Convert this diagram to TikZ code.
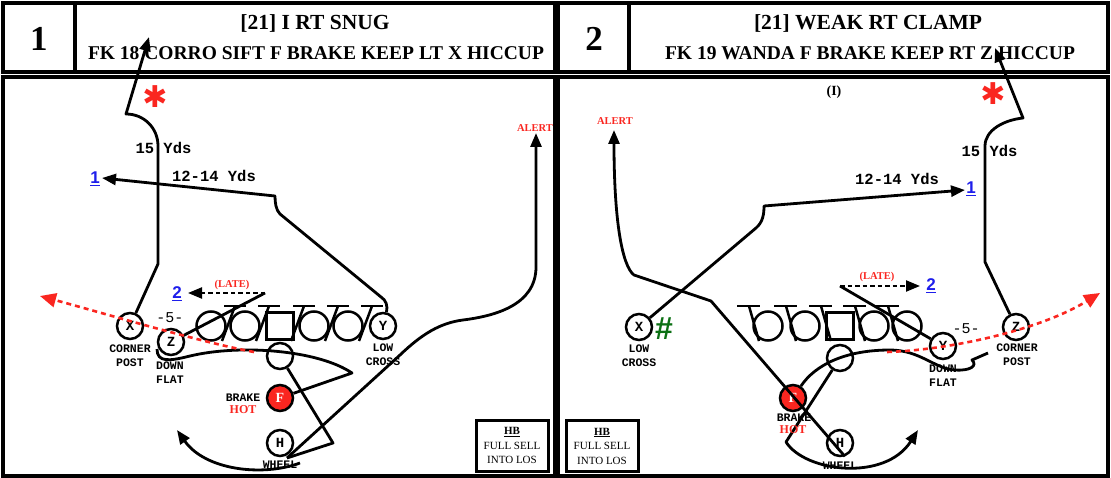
\documentclass[tikz,border=0pt]{standalone}
\usepackage{fontspec}
\setmainfont{Liberation Serif}
\newfontfamily\monof{Liberation Mono}
\newfontfamily\sansf{Liberation Sans}
\newfontfamily\djv{DejaVu Sans}
\usetikzlibrary{arrows.meta}
\definecolor{pred}{RGB}{250,38,32}
\definecolor{pblue}{RGB}{30,30,235}
\definecolor{pgreen}{RGB}{12,112,20}
\tikzset{
 frame/.style={draw=black,line width=3.2pt},
 route/.style={draw=black,line width=2.8pt,line join=round},
 tip/.style={-{Triangle[length=14pt,width=11pt]}},
 dashroute/.style={draw=black,line width=2.2pt,dash pattern=on 4.5pt off 3pt,-{Triangle[length=14pt,width=11pt]}},
 qbpath/.style={draw=pred,line width=2.6pt,dash pattern=on 5pt off 4pt,-{Triangle[length=16pt,width=14pt,fill=pred]}},
 player/.style={circle,draw,line width=2.5pt,minimum size=26pt,inner sep=0pt,font=\monof\bfseries\fontsize{14}{14}\selectfont},
 lman/.style={circle,draw,line width=2.5pt,minimum size=29pt,inner sep=0pt},
 cbox/.style={rectangle,draw,line width=2.5pt,minimum size=27pt,inner sep=0pt},
 plabel/.style={font=\monof\bfseries\fontsize{11.5}{14}\selectfont,align=center,inner sep=0pt},
 yds/.style={font=\monof\bfseries\fontsize{15.5}{15.5}\selectfont,inner sep=0pt},
 five/.style={font=\monof\fontsize{15}{15}\selectfont,inner sep=0pt},
 redsmall/.style={text=pred,font=\bfseries\fontsize{10.5}{10.5}\selectfont,inner sep=0pt},
 hot/.style={text=pred,font=\bfseries\fontsize{12}{12}\selectfont,inner sep=0pt},
 bnum/.style={text=pblue,font=\sansf\bfseries\fontsize{17}{17}\selectfont,inner sep=0pt},
 starsym/.style={text=pred,font=\djv\bfseries\fontsize{30}{30}\selectfont,inner sep=0pt},
 hashsym/.style={text=pgreen,font=\sansf\bfseries\fontsize{32}{32}\selectfont,inner sep=0pt},
 hbbox/.style={draw,line width=3pt,minimum width=72pt,minimum height=51pt,align=center,inner sep=0pt,font=\fontsize{11}{14.5}\selectfont},
 numtxt/.style={font=\bfseries\fontsize{35}{35}\selectfont,inner sep=0pt},
 ttl/.style={font=\bfseries\fontsize{21.5}{21.5}\selectfont,inner sep=0pt},
 subttl/.style={font=\bfseries\fontsize{19.5}{19.5}\selectfont,inner sep=0pt},
 fplayer/.style={player,fill=pred,text=white,font=\bfseries\fontsize{14}{14}\selectfont},
}
\begin{document}
\begin{tikzpicture}[x=1pt,y=-1pt]
\useasboundingbox (0,0) rectangle (1111,478);
% ---------- frames ----------
\draw[frame] (3,3) rectangle (555,72);
\draw[frame] (75,3) -- (75,72);
\draw[frame] (3,77) rectangle (555,476);
\draw[frame] (558,3) rectangle (1108,72);
\draw[frame] (629,3) -- (629,72);
\draw[frame] (558,77) rectangle (1108,476);
% ---------- headers ----------
\node[numtxt] (n1) at (39,39) {1};
\node[ttl] (t1) at (315,23) {[21] I RT SNUG};
\node[subttl] (s1) at (316,53) {FK 18 CORRO SIFT F BRAKE KEEP LT X HICCUP};
\node[numtxt] (n2) at (594,39) {2};
\node[ttl] (t2) at (868,23) {[21] WEAK RT CLAMP};
\node[subttl] (s2) at (870,53) {FK 19 WANDA F BRAKE KEEP RT Z HICCUP};

% =============== LEFT PANEL ===============
\node[player] (lX) at (130,326) {X};
\node[player] (lZ) at (171,342) {Z};
\node[player] (lY) at (383,326) {Y};
\node[player] (lQ) at (280,356) {};
\node[fplayer] (lF) at (280,398) {F};
\node[player] (lH) at (280,443) {H};
\node[lman] (lL1) at (211,326) {};
\node[lman] (lL2) at (245,326) {};
\node[cbox] (lC) at (280,326) {};
\node[lman] (lL4) at (314,326) {};
\node[lman] (lL5) at (348,326) {};
\foreach \cx in {211,245,280,314,348}{
  \draw[route,line width=2.5pt] (\cx+13,306) -- (\cx+35,306);
  \draw[route,line width=2.5pt] (\cx+24,306) -- (\cx+11,341);
}
\coordinate (lLate) at (265,293);
\coordinate (lR0) at (254,352);
\coordinate (lMeet) at (287,458);
% X route
\draw[route,tip] (lX) -- (158,264) -- (158,146) .. controls (158,128) and (144,114) .. (126,114) -- (149,37);
% Y route
\draw[route,tip] (lY) .. controls (388,306) and (386,300) .. (381,297) -- (280,214) .. controls (276,210) and (275,203) .. (275,196) -- (102,178);
% Z route
\draw[route] (lZ) -- (lLate);
\draw[dashroute] (lLate) -- (188,293);
% F brake
\draw[route] (lF) -- (352,373) .. controls (318,350) and (240,344) .. (190,356) .. controls (170,361) and (157,363) .. (157,349);
% QB fake to H
\draw[route] (lQ) -- (333,443) -- (lMeet);
% wheel
\draw[route,tip] (300,463) .. controls (262,477) and (205,470) .. (177,430);
% alert
\draw[route,tip] (lMeet) -- (400,355) .. controls (422,334) and (440,323) .. (463,320) .. controls (495,316) and (536,305) .. (536,267) -- (536,133);
% QB keep
\draw[qbpath] (lR0) .. controls (200,342) and (110,315) .. (40,296);
% labels
\node[plabel] (lXl) at (130,355.5) {CORNER\\POST};
\node[plabel] (lZl) at (170,372.5) {DOWN\\FLAT};
\node[plabel] (lYl) at (383,355) {LOW\\CROSS};
\node[plabel] (lFb) at (243,398) {BRAKE};
\node[hot] (lFh) at (243,410) {HOT};
\node[plabel] (lHl) at (280,465) {WHEEL};
\node[five] (l5) at (170,318) {-5-};
\node[yds] (l15) at (163.5,148) {15 Yds};
\node[yds] (l1214) at (214,176) {12-14 Yds};
\node[bnum] (l1) at (95,179) {\underline{1}};
\node[bnum] (l2) at (177,294) {\underline{2}};
\node[redsmall] (llate) at (232,285) {(LATE)};
\node[redsmall] (lalert) at (535,128) {ALERT};
\node[starsym] (lstar) at (155,97) {✱};
\node[hbbox] (lHB) at (512,445.5) {\textbf{\underline{HB}}\\FULL SELL\\INTO LOS};

% =============== RIGHT PANEL ===============
\node[player] (rX) at (639,327) {X};
\node[player] (rY) at (943,346) {Y};
\node[player] (rZ) at (1016,327) {Z};
\node[player] (rQ) at (840,358) {};
\node[fplayer] (rF) at (793,398) {F};
\node[player] (rH) at (840,443) {H};
\node[lman] (rL1) at (768,326) {};
\node[lman] (rL2) at (805,326) {};
\node[cbox] (rC) at (840,326) {};
\node[lman] (rL4) at (874,326) {};
\node[lman] (rL5) at (907,326) {};
\foreach \cx in {768,805,840,874,907}{
  \draw[route,line width=2.5pt] (\cx-31,306) -- (\cx-8,306);
  \draw[route,line width=2.5pt] (\cx-19,306) -- (\cx-9,341);
}
\coordinate (rLate) at (840,286);
\coordinate (rR0) at (887,352);
% X route
\draw[route,tip] (rX) -- (756,228) .. controls (763,222) and (764,214) .. (764,206) -- (965,190);
% Z route
\draw[route,tip] (rZ) -- (985,262) -- (985,146) .. controls (985,130) and (1004,120) .. (1023,118) -- (995,48);
% Y route
\draw[route] (rY) -- (rLate);
\draw[dashroute] (rLate) -- (920,286);
% F brake
\draw[route] (rF) .. controls (815,365) and (845,350) .. (890,350) .. controls (920,350) and (935,369) .. (955,370) .. controls (970,371) and (978,366) .. (972,360) -- (988,353);
% QB / wheel
\draw[route,tip] (rQ) -- (786,442) .. controls (805,472) and (885,482) .. (918,430);
% alert
\draw[route,tip] (rH.-70) -- (711,301) -- (634,275) .. controls (622,266) and (614,220) .. (614,130);
% QB keep
\draw[qbpath] (rR0) .. controls (950,350) and (1040,330) .. (1100,293);
% labels
\node[plabel] (rXl) at (639,356) {LOW\\CROSS};
\node[plabel] (rYl) at (943,375.5) {DOWN\\FLAT};
\node[plabel] (rZl) at (1017,354.5) {CORNER\\POST};
\node[plabel] (rFb) at (794,418) {BRAKE};
\node[hot] (rFh) at (793,430) {HOT};
\node[plabel] (rHl) at (840,466) {WHEEL};
\node[five] (r5) at (966,329) {-5-};
\node[yds] (r15) at (989.5,151) {15 Yds};
\node[yds] (r1214) at (897,179) {12-14 Yds};
\node[bnum] (r1) at (971,189) {\underline{1}};
\node[bnum] (r2) at (931,286) {\underline{2}};
\node[redsmall] (rlate) at (877,277) {(LATE)};
\node[redsmall] (ralert) at (615,121) {ALERT};
\node[font=\bfseries\fontsize{14}{14}\selectfont,inner sep=0pt] (rI) at (834,92) {(I)};
\node[starsym] (rstar) at (993,94) {✱};
\node[hashsym] (rhash) at (664,329) {\#};
\node[hbbox] (rHB) at (602,446) {\textbf{\underline{HB}}\\FULL SELL\\INTO LOS};
\end{tikzpicture}
\end{document}
